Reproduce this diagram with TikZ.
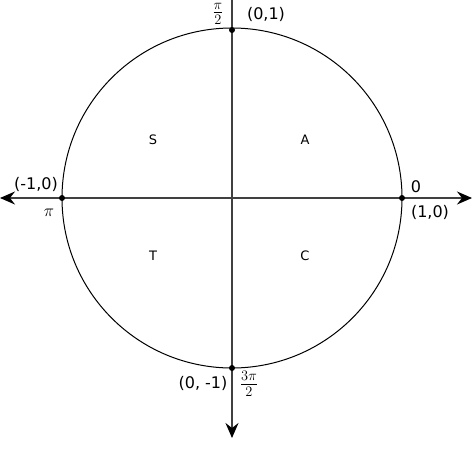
\documentclass[tikz,border=0pt]{standalone}
\usepackage{fontspec}
\setmainfont{DejaVu Sans}
\usetikzlibrary{arrows.meta}
\begin{document}
\begin{tikzpicture}[x=1pt,y=-1pt,
  ax/.style={draw=black!75,line width=1.3pt},
  tip/.style={-{Stealth[length=15pt,width=13pt,inset=5pt,fill=black,color=black]}},
  dot/.style={circle,fill=black,inner sep=0pt,minimum size=6pt},
  lab/.style={font=\fontsize{16}{18}\selectfont,inner sep=1pt},
  fr/.style={font=\fontsize{21}{22}\selectfont,inner sep=0pt},
  q/.style={font=\fontsize{13}{15}\selectfont}]
\useasboundingbox (0,0) rectangle (474,471);
\coordinate (O) at (232,198);
\coordinate (L) at (0,198);
\coordinate (R) at (472,198);
\coordinate (T) at (232,0);
\coordinate (B) at (232,438);
\draw[ax,tip] (O) -- (L);
\draw[ax,tip] (O) -- (R);
\draw[ax] (O) -- (T);
\draw[ax,tip] (O) -- (B);
\draw[line width=1pt] (O) circle (170);
\node[dot] (p0) at (402,198) {};
\node[dot] (p1) at (232,30) {};
\node[dot] (p2) at (62,198) {};
\node[dot] (p3) at (232,368) {};
\node[lab] at (416,187) {0};
\node[lab] at (430,212) {(1,0)};
\node[lab] at (266,14) {(0,1)};
\node[fr] at (218,14) {$\frac{\pi}{2}$};
\node[lab] at (36,184) {(-1,0)};
\node[lab] at (49,213) {$\pi$};
\node[lab] at (203,383) {(0, -1)};
\node[fr] at (249,384) {$\frac{3\pi}{2}$};
\node[q] at (153,140) {S};
\node[q] at (305,140) {A};
\node[q] at (153,256) {T};
\node[q] at (305,256) {C};
\end{tikzpicture}
\end{document}
